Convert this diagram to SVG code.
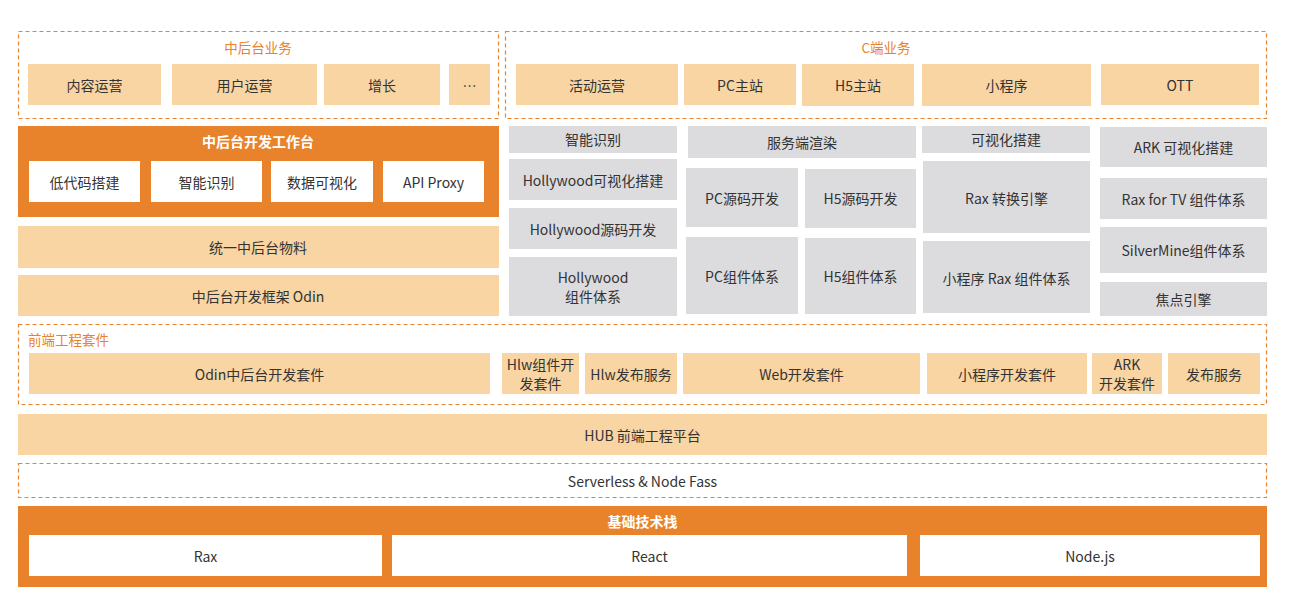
<svg xmlns="http://www.w3.org/2000/svg" width="1291" height="612" viewBox="0 0 1291 612">
<style>
text{font-family:"Noto Sans CJK SC","Liberation Sans",sans-serif;font-size:14px;fill:#333;text-anchor:middle;dominant-baseline:central}
.peach{fill:#F8D5A3}
.gray{fill:#DCDCDE}
.white{fill:#fff}
.orange{fill:#E9832B}
.dash{fill:none;stroke:#E9832B;stroke-width:1.2;stroke-dasharray:4 3}
.ttl{fill:#E9832B;font-size:13.5px}
.wt{fill:#fff;font-weight:bold;font-size:14px}
</style>
<rect width="1291" height="612" fill="#fff"/>

<g id="biz-mid">
<rect class="dash" x="18.5" y="31.5" width="480" height="87"/>
<text class="ttl" x="258" y="47">中后台业务</text>
</g>
<g id="n-content"><rect class="peach" x="28" y="64" width="133" height="41"/><text x="94.5" y="84.5">内容运营</text></g>
<g id="n-user"><rect class="peach" x="172" y="64" width="145" height="41"/><text x="244.5" y="84.5">用户运营</text></g>
<g id="n-growth"><rect class="peach" x="324" y="64" width="116" height="41"/><text x="382" y="84.5">增长</text></g>
<g id="n-more"><rect class="peach" x="449" y="64" width="41" height="41"/><text x="469.5" y="84.5">…</text></g>

<g id="biz-c">
<rect class="dash" x="505.5" y="31.5" width="761" height="87"/>
<text class="ttl" x="886" y="47">C端业务</text>
</g>
<g id="n-activity"><rect class="peach" x="516" y="64" width="162" height="41"/><text x="597" y="84.5">活动运营</text></g>
<g id="n-pc"><rect class="peach" x="684" y="64" width="112" height="41"/><text x="740" y="84.5">PC主站</text></g>
<g id="n-h5"><rect class="peach" x="802" y="64" width="112" height="42"/><text x="858" y="84.5">H5主站</text></g>
<g id="n-mini"><rect class="peach" x="922" y="64" width="169" height="42"/><text x="1006.5" y="84.5">小程序</text></g>
<g id="n-ott"><rect class="peach" x="1101" y="64" width="158" height="41"/><text x="1180" y="84.5">OTT</text></g>

<g id="workbench">
<rect class="orange" x="18" y="126" width="481" height="91"/>
<text class="wt" x="258" y="140.5">中后台开发工作台</text>
</g>
<g id="n-lowcode"><rect class="white" x="29" y="161" width="111" height="41"/><text x="84.5" y="181.5">低代码搭建</text></g>
<g id="n-ai"><rect class="white" x="151" y="161" width="111" height="41"/><text x="206.5" y="181.5">智能识别</text></g>
<g id="n-dataviz"><rect class="white" x="271" y="161" width="102" height="41"/><text x="322" y="181.5">数据可视化</text></g>
<g id="n-api"><rect class="white" x="383" y="161" width="101" height="41"/><text x="433.5" y="181.5">API Proxy</text></g>
<g id="n-material"><rect class="peach" x="18" y="226" width="481" height="42"/><text x="258" y="246.5">统一中后台物料</text></g>
<g id="n-odin"><rect class="peach" x="18" y="275" width="481" height="41"/><text x="258" y="295.5">中后台开发框架 Odin</text></g>

<g id="n-ai2"><rect class="gray" x="509" y="126" width="168" height="27"/><text x="593" y="139">智能识别</text></g>
<g id="n-hvis"><rect class="gray" x="509" y="159" width="168" height="41"/><text x="593" y="179.5">Hollywood可视化搭建</text></g>
<g id="n-hsrc"><rect class="gray" x="509" y="208" width="168" height="41"/><text x="593" y="228.5">Hollywood源码开发</text></g>
<g id="n-hcomp"><rect class="gray" x="509" y="257" width="168" height="59"/><text x="593" y="276.5">Hollywood</text><text x="593" y="295.5">组件体系</text></g>

<g id="n-ssr"><rect class="gray" x="688" y="126" width="228" height="32"/><text x="802" y="141.5">服务端渲染</text></g>
<g id="n-pcsrc"><rect class="gray" x="686" y="168" width="112" height="59"/><text x="742" y="197.5">PC源码开发</text></g>
<g id="n-h5src"><rect class="gray" x="805" y="169" width="111" height="59"/><text x="860.5" y="197.5">H5源码开发</text></g>
<g id="n-pccomp"><rect class="gray" x="686" y="237" width="112" height="77"/><text x="742" y="275.5">PC组件体系</text></g>
<g id="n-h5comp"><rect class="gray" x="805" y="238" width="111" height="76"/><text x="860.5" y="275.5">H5组件体系</text></g>

<g id="n-vis"><rect class="gray" x="922" y="126" width="168" height="27"/><text x="1006" y="139">可视化搭建</text></g>
<g id="n-raxconv"><rect class="gray" x="923" y="161" width="167" height="72"/><text x="1006.5" y="197.5">Rax 转换引擎</text></g>
<g id="n-miniraxcomp"><rect class="gray" x="923" y="241" width="167" height="72"/><text x="1006.5" y="277.5">小程序 Rax 组件体系</text></g>

<g id="n-arkvis"><rect class="gray" x="1100" y="127" width="167" height="40"/><text x="1183.5" y="146.5">ARK 可视化搭建</text></g>
<g id="n-raxtv"><rect class="gray" x="1100" y="178" width="167" height="41"/><text x="1183.5" y="198.5">Rax for TV 组件体系</text></g>
<g id="n-silver"><rect class="gray" x="1100" y="227" width="167" height="46"/><text x="1183.5" y="249.5">SilverMine组件体系</text></g>
<g id="n-focus"><rect class="gray" x="1100" y="282" width="167" height="34"/><text x="1183.5" y="298.5">焦点引擎</text></g>

<g id="fe-kit">
<rect class="dash" x="18.5" y="324.5" width="1248" height="80"/>
<text class="ttl" x="28" y="338.5" style="text-anchor:start">前端工程套件</text>
</g>
<g id="n-odinkit"><rect class="peach" x="29" y="353" width="461" height="41"/><text x="259.5" y="373.5">Odin中后台开发套件</text></g>
<g id="n-hlwkit"><rect class="peach" x="502" y="353" width="77" height="41"/><text x="540.5" y="363.5">Hlw组件开</text><text x="540.5" y="382.5">发套件</text></g>
<g id="n-hlwpub"><rect class="peach" x="585" y="353" width="92" height="41"/><text x="631" y="373.5">Hlw发布服务</text></g>
<g id="n-webkit"><rect class="peach" x="683" y="353" width="237" height="41"/><text x="801.5" y="373.5">Web开发套件</text></g>
<g id="n-minikit"><rect class="peach" x="927" y="353" width="160" height="41"/><text x="1007" y="373.5">小程序开发套件</text></g>
<g id="n-arkkit"><rect class="peach" x="1092" y="353" width="70" height="41"/><text x="1127" y="363.5">ARK</text><text x="1127" y="382.5">开发套件</text></g>
<g id="n-pub"><rect class="peach" x="1168" y="353" width="92" height="41"/><text x="1214" y="373.5">发布服务</text></g>

<g id="n-hub"><rect class="peach" x="18" y="414" width="1249" height="41"/><text x="642.5" y="434.5">HUB 前端工程平台</text></g>
<g id="n-serverless"><rect class="dash" x="18.5" y="463.5" width="1248" height="34"/><text x="642.5" y="480.5">Serverless &amp; Node Fass</text></g>

<g id="base">
<rect class="orange" x="18" y="506" width="1249" height="81"/>
<text class="wt" x="642.5" y="520.5">基础技术栈</text>
</g>
<g id="n-rax"><rect class="white" x="29" y="535" width="353" height="41"/><text x="205.5" y="555.5">Rax</text></g>
<g id="n-react"><rect class="white" x="392" y="535" width="515" height="41"/><text x="649.5" y="555.5">React</text></g>
<g id="n-node"><rect class="white" x="920" y="535" width="340" height="41"/><text x="1090" y="555.5">Node.js</text></g>

<g id="connectors"></g>
</svg>
